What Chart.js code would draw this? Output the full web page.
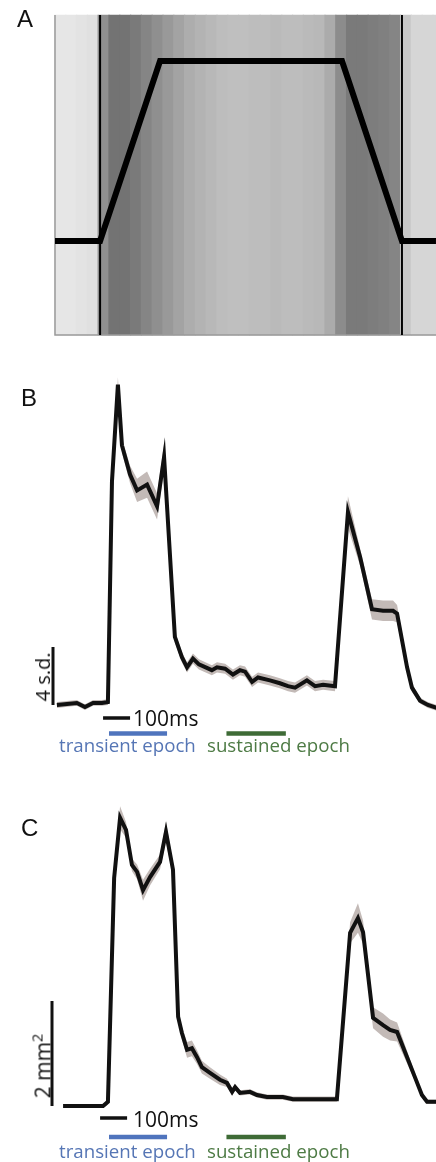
<!DOCTYPE html>
<html>
<head>
<meta charset="utf-8">
<script src="https://cdn.jsdelivr.net/npm/chart.js@4.4.1/dist/chart.umd.min.js"></script>
<style>
  html, body { margin: 0; padding: 0; background: #fff; }
  body { position: relative; width: 436px; height: 1162px; overflow: hidden; }
  canvas { position: absolute; left: 0; }
  .lbl { position: absolute; white-space: nowrap; line-height: 1; }
  .panel { font-family: "Liberation Sans", Arial, sans-serif; font-size: 24px; color: #111; }
  .ms { font-family: "Open Sans", sans-serif; font-size: 21px; color: #111; }
  .epoch { font-family: "Open Sans", sans-serif; font-size: 18.7px; }
  .rot { font-family: "Open Sans", sans-serif; color: #111; transform: translate(-50%, -50%) rotate(-90deg); }
  .rot sup { font-size: 0.7em; line-height: 0; }
</style>
</head>
<body>
<canvas id="chartA" width="436" height="345" style="top:0px"></canvas>
<canvas id="chartB" width="436" height="410" style="top:360px"></canvas>
<canvas id="chartC" width="436" height="367" style="top:795px"></canvas>

<div class="lbl panel" style="left:17px;top:7px">A</div>
<div class="lbl panel" style="left:21px;top:386px">B</div>
<div class="lbl panel" style="left:21px;top:816px">C</div>

<div class="lbl rot" style="left:43px;top:677px;font-size:20px">4 s.d.</div>
<div class="lbl ms" style="left:133px;top:708px">100ms</div>
<div class="lbl epoch" style="left:59px;top:736px;color:#5676b5">transient epoch</div>
<div class="lbl epoch" style="left:207px;top:736px;color:#4e7b45">sustained epoch</div>

<div class="lbl rot" style="left:43px;top:1066px;font-size:21px">2 mm<sup>2</sup></div>
<div class="lbl ms" style="left:133px;top:1109px">100ms</div>
<div class="lbl epoch" style="left:59px;top:1142px;color:#5676b5">transient epoch</div>
<div class="lbl epoch" style="left:207px;top:1142px;color:#4e7b45">sustained epoch</div>

<script>
// ---- data (time in ms) ----
const stimTimes = [0, 167, 389, 1063, 1285, 1411]
const stimLevels = [0, 0, 1, 1, 0, 0]

// spike raster, shown as spike density per 40 ms bin
const rasterTimes = [20, 60, 100, 140, 180, 220, 260, 300, 340, 380, 420, 460, 500, 540, 580, 620, 660, 700,
    740, 780, 820, 860, 900, 940, 980, 1020, 1060, 1100, 1140, 1180, 1220, 1260, 1300, 1340, 1380, 1420]
const rasterDensity = [0.10, 0.10, 0.11, 0.12, 0.44, 0.55, 0.55, 0.52, 0.48, 0.44, 0.40, 0.36, 0.32, 0.30,
    0.28, 0.26, 0.25, 0.25, 0.26, 0.26, 0.27, 0.26, 0.26, 0.27, 0.28, 0.33, 0.45, 0.52, 0.52, 0.51, 0.50,
    0.48, 0.22, 0.16, 0.16, 0.16]

const timesB = [7, 81, 111, 141, 174, 196, 211, 233, 248, 278, 304, 341, 378, 404, 444, 470, 489, 511, 533,
    581, 600, 630, 659, 685, 704, 730, 752, 796, 833, 863, 889, 933, 963, 993, 1037, 1085, 1130, 1174, 1215,
    1252, 1267, 1304, 1322, 1352, 1381, 1415]
const meanB = [0, 0.14, -0.14, 0.14, 0.14, 0.2, 15.4, 22.1, 17.9, 15.9, 14.8, 15.2, 13.7, 17.1, 4.7, 3.3, 2.6,
    3.2, 2.8, 2.4, 2.6, 2.5, 2.1, 2.4, 2.3, 1.6, 1.9, 1.7, 1.5, 1.3, 1.2, 1.7, 1.3, 1.4, 1.3, 13.3, 10.2, 6.6,
    6.5, 6.5, 6.3, 2.6, 1.2, 0.3, 0, -0.2]
const semB = [0.2, 0.2, 0.2, 0.2, 0.2, 0.2, 0.4, 0.5, 0.5, 0.6, 0.8, 0.9, 0.9, 0.9, 0.4, 0.35, 0.35, 0.35,
    0.35, 0.35, 0.35, 0.35, 0.35, 0.35, 0.35, 0.35, 0.35, 0.35, 0.35, 0.35, 0.35, 0.35, 0.35, 0.35, 0.35,
    1.1, 0.6, 0.7, 0.7, 0.7, 0.6, 0.4, 0.3, 0.2, 0.2, 0.2]

const timesC = [30, 178, 196, 219, 241, 263, 285, 304, 326, 352, 389, 411, 437, 456, 470, 489, 507, 526, 544,
    574, 611, 637, 656, 667, 685, 722, 748, 785, 844, 881, 933, 981, 1044, 1093, 1122, 1141, 1178, 1215, 1241,
    1267, 1304, 1333, 1359, 1378, 1415]
const meanC = [0, 0, 0.08, 4.34, 5.49, 5.26, 4.59, 4.46, 4.11, 4.36, 4.65, 5.22, 4.50, 1.70, 1.39, 1.07, 1.10,
    0.93, 0.74, 0.63, 0.50, 0.44, 0.27, 0.36, 0.25, 0.27, 0.21, 0.17, 0.17, 0.13, 0.13, 0.13, 0.13, 3.30, 3.58,
    3.31, 1.68, 1.54, 1.45, 1.41, 0.93, 0.55, 0.21, 0.08, 0.08]
const semC = [0.04, 0.04, 0.05, 0.12, 0.22, 0.15, 0.12, 0.14, 0.2, 0.16, 0.14, 0.2, 0.12, 0.1, 0.12, 0.15, 0.15,
    0.13, 0.12, 0.11, 0.1, 0.08, 0.07, 0.06, 0.05, 0.05, 0.05, 0.05, 0.05, 0.05, 0.05, 0.05, 0.05, 0.2, 0.28,
    0.22, 0.2, 0.22, 0.2, 0.18, 0.12, 0.08, 0.05, 0.04, 0.04]

const transientEpoch = [200, 415]
const sustainedEpoch = [635, 855]
const timeBarMs = 100
const sdBar = 4
const mmBar = 2

// ---- layout (page pixels) ----
const PX_PER_MS = 0.27
const X0 = 55
const W = 436
const xMin = -X0 / PX_PER_MS
const xMax = (W - X0) / PX_PER_MS
const pxToMs = p => (p - X0) / PX_PER_MS

const lineCol = '#111'
const bandCol = '#c3bab7'
const blue = '#4f74bd'
const green = '#3e6b36'

const pts = (xs, ys) => xs.map((x, i) => ({ x, y: ys[i] }))
const gray = d => { const g = Math.round(255 * (1 - d)); return `rgb(${g},${g},${g})` }

const makeChart = (id, top, height, zero, pxPerUnit, datasets) => {
    const val = p => (zero - p) / pxPerUnit
    return new Chart(id, {
        type: 'line',
        data: { datasets: datasets(val) },
        options: {
            responsive: false,
            animation: false,
            devicePixelRatio: 1,
            layout: { padding: 0 },
            plugins: { legend: { display: false }, tooltip: { enabled: false } },
            elements: { point: { radius: 0 }, line: { tension: 0 } },
            scales: {
                x: { type: 'linear', min: xMin, max: xMax, display: false, offset: false, ticks: { includeBounds: false } },
                y: { type: 'linear', min: val(top + height), max: val(top), display: false }
            }
        }
    })
}

const seg = (x0, x1, y0, y1, color, width, order) => ({
    data: [{ x: x0, y: y0 }, { x: x1, y: y1 }],
    borderColor: color, borderWidth: width, fill: false, order, borderCapStyle: 'butt'
})

// panel A: raster + stimulus
makeChart('chartA', 0, 345, 241, 180, val => {
    const rTop = val(15), rBot = val(335)
    return [
        {
            data: pts(stimTimes, stimLevels),
            borderColor: '#000', borderWidth: 6, fill: false, order: 0, borderJoinStyle: 'miter'
        },
        seg(stimTimes[1], stimTimes[1], rBot, rTop, '#000', 2, 1),
        seg(stimTimes[4], stimTimes[4], rBot, rTop, '#000', 2, 1),
        {
            data: [{ x: 0, y: rTop }, { x: 0, y: rBot }, { x: xMax, y: rBot }],
            borderColor: '#9a9a9a', borderWidth: 1.5, fill: false, order: 2
        },
        {
            type: 'bar',
            data: rasterTimes.map(t => ({ x: t, y: [rBot, rTop] })),
            backgroundColor: rasterDensity.map(gray),
            borderWidth: 0,
            barThickness: (rasterTimes[1] - rasterTimes[0]) * PX_PER_MS + 0.6,
            order: 5
        }
    ]
})

const tracePanel = (id, top, height, zero, pxPerUnit, times, mean, sem, unitBar, lay) =>
    makeChart(id, top, height, zero, pxPerUnit, val => [
        { data: pts(times, mean), borderColor: lineCol, borderWidth: 4, fill: false, order: 0 },
        {
            data: pts(times, mean.map((m, i) => m + sem[i])),
            borderWidth: 0, borderColor: 'transparent', backgroundColor: bandCol, fill: '+1', order: 3
        },
        {
            data: pts(times, mean.map((m, i) => m - sem[i])),
            borderWidth: 0, borderColor: 'transparent', fill: false, order: 3
        },
        seg(pxToMs(lay.barX), pxToMs(lay.barX), 0, unitBar, lineCol, 3, 0),
        seg(lay.timeStart, lay.timeStart + timeBarMs, val(lay.timeY), val(lay.timeY), lineCol, 3.5, 0),
        seg(transientEpoch[0], transientEpoch[1], val(lay.epochY), val(lay.epochY), blue, 4.5, 0),
        seg(sustainedEpoch[0], sustainedEpoch[1], val(lay.epochY), val(lay.epochY), green, 4.5, 0)
    ])

tracePanel('chartB', 360, 410, 705, 14.5, timesB, meanB, semB, sdBar,
    { barX: 53, timeStart: 178, timeY: 718, epochY: 733.5 })
tracePanel('chartC', 795, 367, 1106, 52.5, timesC, meanC, semC, mmBar,
    { barX: 52, timeStart: 167, timeY: 1118, epochY: 1137 })
</script>
</body>
</html>
